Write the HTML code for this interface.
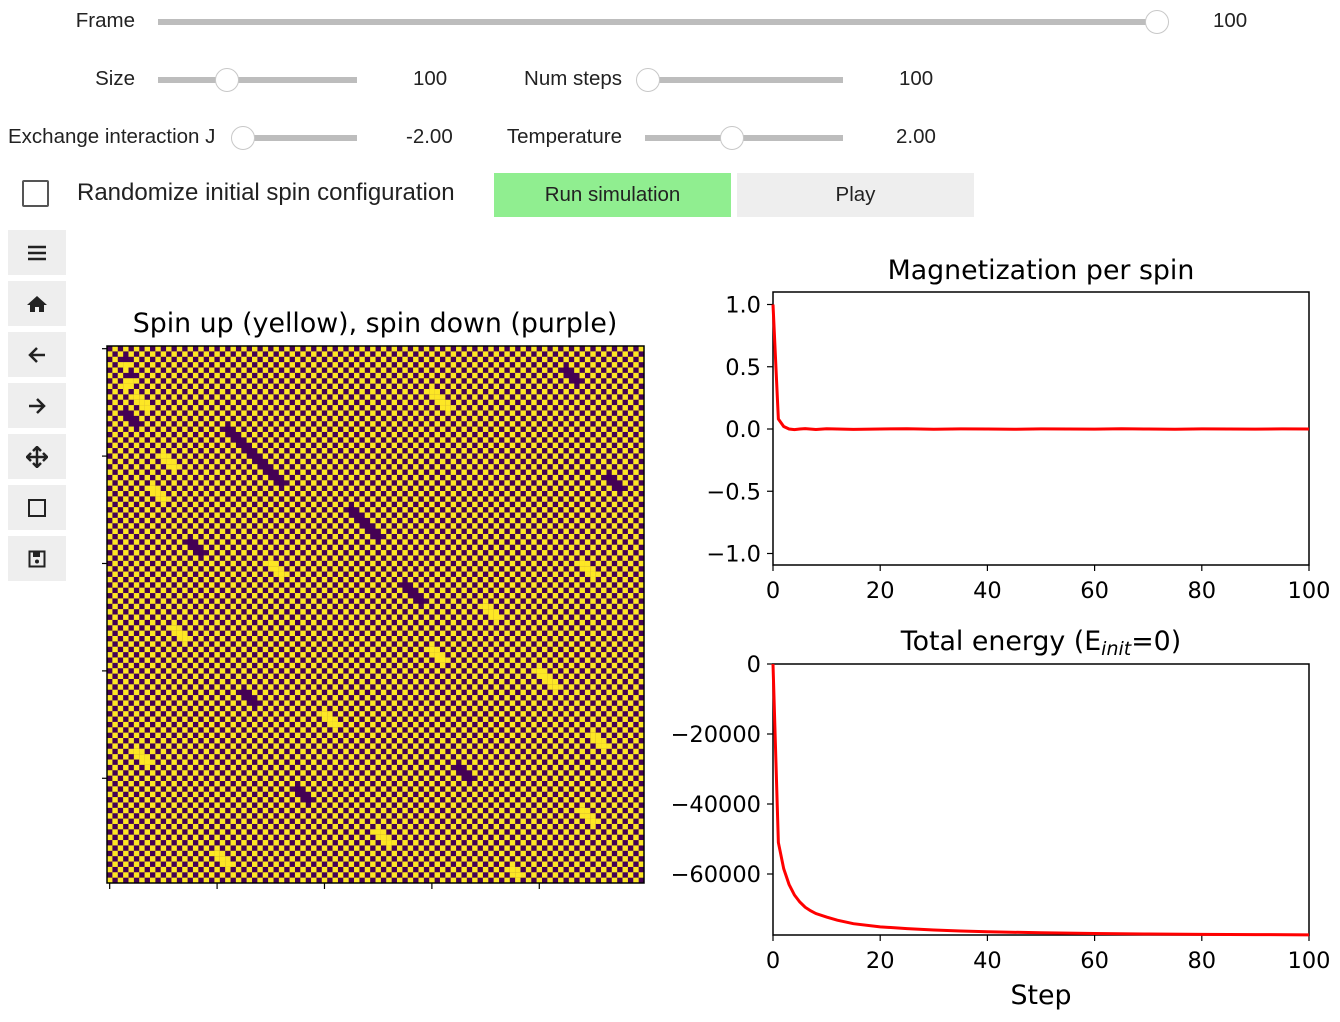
<!DOCTYPE html>
<html><head><meta charset="utf-8">
<style>
body{margin:0;width:1340px;height:1022px;background:#fff;position:relative;overflow:hidden;font-family:"Liberation Sans",sans-serif;color:#222}
.abs{position:absolute}
.lbl{position:absolute;font-size:20.5px;text-align:right}
.val{position:absolute;font-size:20.5px}
.track{position:absolute;height:6px;background:#bdbdbd}
.handle{position:absolute;width:24px;height:24px;border-radius:50%;background:#fff;border:1px solid #c8c8c8;box-sizing:border-box}
.tb{position:absolute;left:8px;width:58px;height:45px;background:#eee;display:flex;align-items:center;justify-content:center;font-size:20px;color:#222}
svg text{font-family:"DejaVu Sans",sans-serif}
</style></head><body>
<div class="lbl" style="right:1205px;top:9px">Frame</div>
<div class="track" style="left:158px;top:19px;width:999px"></div>
<div class="handle" style="left:1145px;top:10px"></div>
<div class="val" style="left:1213px;top:9px">100</div>

<div class="lbl" style="right:1205px;top:67px">Size</div>
<div class="track" style="left:158px;top:77px;width:199px"></div>
<div class="handle" style="left:215px;top:68px"></div>
<div class="val" style="left:413px;top:67px">100</div>

<div class="lbl" style="right:718px;top:67px">Num steps</div>
<div class="track" style="left:645px;top:77px;width:198px"></div>
<div class="handle" style="left:636px;top:68px"></div>
<div class="val" style="left:899px;top:67px">100</div>

<div class="lbl" style="left:8px;top:125px">Exchange interaction J</div>
<div class="track" style="left:244px;top:135px;width:113px"></div>
<div class="handle" style="left:231px;top:126px"></div>
<div class="val" style="left:406px;top:125px">-2.00</div>

<div class="lbl" style="right:718px;top:125px">Temperature</div>
<div class="track" style="left:645px;top:135px;width:198px"></div>
<div class="handle" style="left:720px;top:126px"></div>
<div class="val" style="left:896px;top:125px">2.00</div>

<div class="abs" style="left:22px;top:180px;width:27px;height:27px;border:2px solid #555;box-sizing:border-box;border-radius:2px"></div>
<div class="abs" style="left:77px;top:179px;font-size:24px">Randomize initial spin configuration</div>
<div class="abs" style="left:494px;top:173px;width:237px;height:44px;background:#90ee90;font-size:20.5px;display:flex;align-items:center;justify-content:center">Run simulation</div>
<div class="abs" style="left:737px;top:173px;width:237px;height:44px;background:#eee;font-size:20.5px;display:flex;align-items:center;justify-content:center">Play</div>

<div class="tb" style="top:230px"><svg width="20" height="18"><path d="M1 3 H19 M1 9 H19 M1 15 H19" stroke="#222" stroke-width="2.5"/></svg></div>
<div class="tb" style="top:281px"><svg width="22" height="20" viewBox="0 0 22 20"><path d="M11 2 L1 11 L4 11 L4 18 L9 18 L9 13 L13 13 L13 18 L18 18 L18 11 L21 11 Z" fill="#222"/></svg></div>
<div class="tb" style="top:332px"><svg width="20" height="18"><path d="M18 9 H3 M10 2 L3 9 L10 16" stroke="#222" stroke-width="2.5" fill="none"/></svg></div>
<div class="tb" style="top:383px"><svg width="20" height="18"><path d="M2 9 H17 M10 2 L17 9 L10 16" stroke="#222" stroke-width="2.5" fill="none"/></svg></div>
<div class="tb" style="top:434px"><svg width="22" height="22"><path d="M11 1 V21 M1 11 H21 M7 5 L11 1 L15 5 M7 17 L11 21 L15 17 M5 7 L1 11 L5 15 M17 7 L21 11 L17 15" stroke="#222" stroke-width="2.5" fill="none"/></svg></div>
<div class="tb" style="top:485px"><svg width="20" height="20"><rect x="2" y="2" width="16" height="16" stroke="#222" stroke-width="2" fill="none"/></svg></div>
<div class="tb" style="top:536px"><svg width="18" height="18"><rect x="1.5" y="1.5" width="15" height="15" stroke="#222" stroke-width="2" fill="none"/><rect x="5" y="2" width="7" height="5" fill="#222"/><circle cx="9" cy="11.5" r="2" fill="#222"/></svg></div>

<svg id="chart" class="abs" style="left:0;top:0" width="1340" height="1022"></svg>

<script>
// Heatmap data: antiferromagnetic checkerboard with flipped (defect) cells
const gridSize = 100;
const flips = [[2,3],[3,3],[5,4],[6,4],[7,3],[9,5],[10,6],[11,7],[12,3],[13,4],[14,5],[15,22],[16,23],[17,24],[18,25],[19,26],[20,27],[21,28],[22,29],[23,30],[24,31],[25,32],[20,10],[21,11],[22,12],[26,8],[27,9],[28,10],[30,45],[31,46],[32,47],[33,48],[34,49],[35,50],[36,15],[37,16],[38,17],[40,30],[41,31],[42,32],[44,55],[45,56],[46,57],[47,58],[48,70],[49,71],[50,72],[52,12],[53,13],[54,14],[56,60],[57,61],[58,62],[60,80],[61,81],[62,82],[63,83],[64,25],[65,26],[66,27],[68,40],[69,41],[70,42],[72,90],[73,91],[74,92],[75,5],[76,6],[77,7],[78,65],[79,66],[80,67],[82,35],[83,36],[84,37],[86,88],[87,89],[88,90],[90,50],[91,51],[92,52],[94,20],[95,21],[96,22],[97,75],[98,76],[8,60],[9,61],[10,62],[11,63],[4,85],[5,86],[6,87],[24,93],[25,94],[26,95],[40,88],[41,89],[42,90]];

const magSteps = [0,1,2,3,4,5,6,8,10,15,20,25,30,35,40,45,50,55,60,65,70,75,80,85,90,95,100];
const magValues = [1.0,0.08,0.02,0.0,-0.005,0.0,0.003,-0.004,0.002,-0.003,0.0,0.002,-0.002,0.001,0.0,-0.002,0.001,0.0,-0.001,0.002,0.0,-0.002,0.001,0.0,-0.001,0.001,0.0];
const energySteps = [0,1,2,3,4,5,6,7,8,10,12,15,20,25,30,35,40,50,60,70,80,90,100];
const energyValues = [0,-51000,-58500,-63000,-66000,-68000,-69500,-70500,-71300,-72300,-73200,-74200,-75100,-75600,-76000,-76300,-76500,-76800,-77000,-77150,-77250,-77320,-77380];
const xTicks = [0,20,40,60,80,100];
const magTicks = [1.0,0.5,0.0,-0.5,-1.0];
const magTickLabels = ["1.0","0.5","0.0","\u22120.5","\u22121.0"];
const energyTicks = [0,-20000,-40000,-60000];
const energyTickLabels = ["0","\u221220000","\u221240000","\u221260000"];
const heatTicks = [0,20,40,60,80];

const NS="http://www.w3.org/2000/svg";
const svg=document.getElementById('chart');
function mk(tag,attrs,parent){const e=document.createElementNS(NS,tag);for(const k in attrs)e.setAttribute(k,attrs[k]);(parent||svg).appendChild(e);return e;}

// Heatmap
const hx0=107,hy0=346,hw=537,hh=537;
const cell=hw/gridSize;
const hm=mk('g',{});


mk('rect',{x:hx0,y:hy0,width:hw,height:hh,fill:'#440154'},hm);
const flipSet=new Set(flips.map(f=>f[0]*gridSize+f[1]));
for(let r=0;r<gridSize;r++){for(let c=0;c<gridSize;c++){
  let s=(r+c)%2;
  if(flipSet.has(r*gridSize+c)) s=1-s;
  if(s===1){
    mk('rect',{x:(hx0+c*cell).toFixed(2),y:(hy0+r*cell).toFixed(2),width:(cell+0.05).toFixed(2),height:(cell+0.05).toFixed(2),fill:'#fde725'},hm);
  }
}}
mk('rect',{x:hx0,y:hy0,width:hw,height:hh,fill:'none',stroke:'#000','stroke-width':1.5});
heatTicks.forEach(t=>{
  const y=hy0+(t+0.5)*cell, x=hx0+(t+0.5)*cell;
  const a=mk('line',{x1:hx0-5,x2:hx0,y1:y,y2:y,stroke:'#000','stroke-width':1.2});
  
  
  const b=mk('line',{x1:x,x2:x,y1:hy0+hh,y2:hy0+hh+6,stroke:'#000','stroke-width':1.2});
  
  
});
const ht=mk('text',{x:375,y:332,'text-anchor':'middle','font-size':26.8});
ht.textContent='Spin up (yellow), spin down (purple)';



// Line axes
const ax0=773,ax1=1309;
function sx(v){return ax0+(v/100)*(ax1-ax0);}
function my(v){return 429-v*124.5;}
function ey(v){return 664-v*(70/20000);}

function drawAxes(top,bot,name){
  const r=mk('rect',{x:ax0,y:top,width:ax1-ax0,height:bot-top,fill:'none',stroke:'#000','stroke-width':1.5});
  
  
  xTicks.forEach(t=>{
    mk('line',{x1:sx(t),x2:sx(t),y1:bot,y2:bot+6,stroke:'#000','stroke-width':1.2});
    const tx=mk('text',{x:sx(t),y:bot+33,'text-anchor':'middle','font-size':22.5});
    tx.textContent=t;
    
    
  });
}
// Magnetization
drawAxes(292,565,'magnetization');
magTicks.forEach((t,i)=>{
  mk('line',{x1:ax0-6,x2:ax0,y1:my(t),y2:my(t),stroke:'#000','stroke-width':1.2});
  const tx=mk('text',{x:ax0-12,y:my(t)+8,'text-anchor':'end','font-size':22.5});
  tx.textContent=magTickLabels[i];
  
  
});
const mt=mk('text',{x:1041,y:279,'text-anchor':'middle','font-size':26.8});
mt.textContent='Magnetization per spin';


const ml=mk('polyline',{points:magSteps.map((s,i)=>sx(s)+','+my(magValues[i])).join(' '),fill:'none',stroke:'#ff0000','stroke-width':3});



// Energy
drawAxes(664,935,'energy');
energyTicks.forEach((t,i)=>{
  mk('line',{x1:ax0-6,x2:ax0,y1:ey(t),y2:ey(t),stroke:'#000','stroke-width':1.2});
  const tx=mk('text',{x:ax0-12,y:ey(t)+8,'text-anchor':'end','font-size':22.5});
  tx.textContent=energyTickLabels[i];
  
  
});
const et=mk('text',{x:1041,y:650,'text-anchor':'middle','font-size':26.8});
et.innerHTML='Total energy (E<tspan font-style="italic" font-size="19" dy="5">init</tspan><tspan dy="-5">=0)</tspan>';


const el=mk('polyline',{points:energySteps.map((s,i)=>sx(s)+','+ey(energyValues[i])).join(' '),fill:'none',stroke:'#ff0000','stroke-width':3});


const xl=mk('text',{x:1041,y:1004,'text-anchor':'middle','font-size':26.8});
xl.textContent='Step';


</script>
</body></html>
